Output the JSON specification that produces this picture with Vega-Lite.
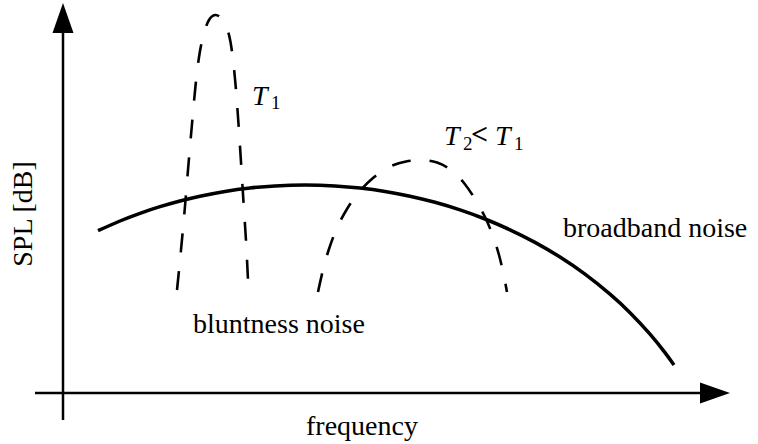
{
  "$schema": "https://vega.github.io/schema/vega-lite/v6.json",
  "width": 758,
  "height": 444,
  "autosize": {"type": "fit", "contains": "padding"},
  "padding": 0,
  "background": "white",
  "config": {"view": {"stroke": null}},
  "datasets": {
    "broadband": [
      {"f": 98, "spl": 213.3}, {"f": 120, "spl": 223.0}, {"f": 140, "spl": 230.7}, {"f": 160, "spl": 237.3},
      {"f": 180, "spl": 243.0}, {"f": 200, "spl": 247.8}, {"f": 225, "spl": 252.6}, {"f": 250, "spl": 256.0},
      {"f": 275, "spl": 258.1}, {"f": 305, "spl": 259.0}, {"f": 335, "spl": 258.1}, {"f": 360, "spl": 256.0},
      {"f": 385, "spl": 252.6}, {"f": 410, "spl": 247.8}, {"f": 435, "spl": 241.7}, {"f": 460, "spl": 234.1},
      {"f": 485, "spl": 225.0}, {"f": 510, "spl": 214.2}, {"f": 535, "spl": 201.6}, {"f": 560, "spl": 186.9},
      {"f": 585, "spl": 169.8}, {"f": 610, "spl": 149.8}, {"f": 630, "spl": 131.3}, {"f": 650, "spl": 109.9},
      {"f": 665, "spl": 91.4}, {"f": 674, "spl": 79.0}
    ],
    "peaks": [
      {"peak": "T1", "i": 1, "f": 177, "spl": 154}, {"peak": "T1", "i": 2, "f": 181, "spl": 194},
      {"peak": "T1", "i": 3, "f": 185, "spl": 238}, {"peak": "T1", "i": 4, "f": 188.5, "spl": 280},
      {"peak": "T1", "i": 5, "f": 192, "spl": 320}, {"peak": "T1", "i": 6, "f": 195.5, "spl": 358},
      {"peak": "T1", "i": 7, "f": 199.5, "spl": 390}, {"peak": "T1", "i": 8, "f": 204, "spl": 411},
      {"peak": "T1", "i": 9, "f": 209, "spl": 424}, {"peak": "T1", "i": 10, "f": 215, "spl": 429},
      {"peak": "T1", "i": 11, "f": 221, "spl": 426}, {"peak": "T1", "i": 12, "f": 226.5, "spl": 417},
      {"peak": "T1", "i": 13, "f": 230.5, "spl": 402}, {"peak": "T1", "i": 14, "f": 233.5, "spl": 380},
      {"peak": "T1", "i": 15, "f": 236, "spl": 354}, {"peak": "T1", "i": 16, "f": 238.5, "spl": 320},
      {"peak": "T1", "i": 17, "f": 241, "spl": 282}, {"peak": "T1", "i": 18, "f": 243.5, "spl": 242},
      {"peak": "T1", "i": 19, "f": 246, "spl": 203}, {"peak": "T1", "i": 20, "f": 248, "spl": 164},
      {"peak": "T2", "i": 1, "f": 318, "spl": 152}, {"peak": "T2", "i": 2, "f": 323, "spl": 174},
      {"peak": "T2", "i": 3, "f": 329, "spl": 195}, {"peak": "T2", "i": 4, "f": 337, "spl": 216},
      {"peak": "T2", "i": 5, "f": 347, "spl": 235}, {"peak": "T2", "i": 6, "f": 359, "spl": 252},
      {"peak": "T2", "i": 7, "f": 373, "spl": 266}, {"peak": "T2", "i": 8, "f": 389, "spl": 277},
      {"peak": "T2", "i": 9, "f": 406, "spl": 282.5}, {"peak": "T2", "i": 10, "f": 422, "spl": 284},
      {"peak": "T2", "i": 11, "f": 437, "spl": 281.5}, {"peak": "T2", "i": 12, "f": 451, "spl": 274},
      {"peak": "T2", "i": 13, "f": 464, "spl": 261}, {"peak": "T2", "i": 14, "f": 475, "spl": 245},
      {"peak": "T2", "i": 15, "f": 485, "spl": 227}, {"peak": "T2", "i": 16, "f": 493, "spl": 208},
      {"peak": "T2", "i": 17, "f": 499, "spl": 189}, {"peak": "T2", "i": 18, "f": 503.5, "spl": 170},
      {"peak": "T2", "i": 19, "f": 507, "spl": 152}
    ],
    "axes": [
      {"f": 35, "f2": 712, "spl": 51, "spl2": 51},
      {"f": 63, "f2": 63, "spl": 24, "spl2": 420}
    ],
    "arrowRight": [{"f": 715, "spl": 51}],
    "arrowUp": [{"f": 63, "spl": 426}],
    "labels": [
      {"style": "roman", "text": "bluntness noise", "f": 193, "spl": 111},
      {"style": "roman", "text": "broadband noise", "f": 563, "spl": 207},
      {"style": "italic", "text": "T", "f": 252, "spl": 339},
      {"style": "sub", "text": "1", "f": 271, "spl": 335},
      {"style": "italic", "text": "T", "f": 444, "spl": 299},
      {"style": "sub", "text": "2", "f": 463, "spl": 294},
      {"style": "italic", "text": "T", "f": 495, "spl": 299},
      {"style": "sub", "text": "1", "f": 514, "spl": 294}
    ],
    "lessThan": [{"text": "<", "f": 471, "spl": 300}],
    "centerLabels": [{"text": "frequency", "f": 362, "spl": 9}],
    "yLabel": [{"text": "SPL [dB]", "f": 32, "spl": 230}]
  },
  "layer": [
    {
      "data": {"name": "axes"},
      "mark": {"type": "rule", "color": "black", "strokeWidth": 2.5},
      "encoding": {
        "x": {"field": "f", "type": "quantitative", "scale": {"domain": [0, 758], "nice": false, "zero": false}, "axis": null},
        "x2": {"field": "f2"},
        "y": {"field": "spl", "type": "quantitative", "scale": {"domain": [0, 444], "nice": false, "zero": false}, "axis": null},
        "y2": {"field": "spl2"}
      }
    },
    {
      "data": {"name": "arrowRight"},
      "mark": {"type": "point", "shape": "M-1,-0.7L1,0L-1,0.7Z", "filled": true, "color": "black", "size": 900, "opacity": 1, "strokeWidth": 0},
      "encoding": {
        "x": {"field": "f", "type": "quantitative"},
        "y": {"field": "spl", "type": "quantitative"}
      }
    },
    {
      "data": {"name": "arrowUp"},
      "mark": {"type": "point", "shape": "M-0.7,1L0,-1L0.7,1Z", "filled": true, "color": "black", "size": 900, "opacity": 1, "strokeWidth": 0},
      "encoding": {
        "x": {"field": "f", "type": "quantitative"},
        "y": {"field": "spl", "type": "quantitative"}
      }
    },
    {
      "data": {"name": "broadband"},
      "mark": {"type": "line", "color": "black", "strokeWidth": 3.5, "interpolate": "natural"},
      "encoding": {
        "x": {"field": "f", "type": "quantitative"},
        "y": {"field": "spl", "type": "quantitative"}
      }
    },
    {
      "data": {"name": "peaks"},
      "mark": {"type": "line", "color": "black", "strokeWidth": 2.6, "strokeDash": [19, 19], "interpolate": "natural"},
      "encoding": {
        "x": {"field": "f", "type": "quantitative"},
        "y": {"field": "spl", "type": "quantitative"},
        "detail": {"field": "peak"},
        "order": {"field": "i", "type": "quantitative"}
      }
    },
    {
      "data": {"name": "labels"},
      "transform": [{"filter": "datum.style === 'roman'"}],
      "mark": {"type": "text", "font": "Liberation Serif", "fontSize": 28, "align": "left", "baseline": "alphabetic", "color": "black"},
      "encoding": {
        "x": {"field": "f", "type": "quantitative"},
        "y": {"field": "spl", "type": "quantitative"},
        "text": {"field": "text"}
      }
    },
    {
      "data": {"name": "lessThan"},
      "mark": {"type": "text", "font": "Liberation Serif", "fontSize": 30, "fontWeight": "bold", "align": "left", "baseline": "alphabetic", "color": "black"},
      "encoding": {
        "x": {"field": "f", "type": "quantitative"},
        "y": {"field": "spl", "type": "quantitative"},
        "text": {"field": "text"}
      }
    },
    {
      "data": {"name": "labels"},
      "transform": [{"filter": "datum.style === 'italic'"}],
      "mark": {"type": "text", "font": "Liberation Serif", "fontStyle": "italic", "fontSize": 28, "align": "left", "baseline": "alphabetic", "color": "black"},
      "encoding": {
        "x": {"field": "f", "type": "quantitative"},
        "y": {"field": "spl", "type": "quantitative"},
        "text": {"field": "text"}
      }
    },
    {
      "data": {"name": "labels"},
      "transform": [{"filter": "datum.style === 'sub'"}],
      "mark": {"type": "text", "font": "Liberation Serif", "fontSize": 19, "align": "left", "baseline": "alphabetic", "color": "black"},
      "encoding": {
        "x": {"field": "f", "type": "quantitative"},
        "y": {"field": "spl", "type": "quantitative"},
        "text": {"field": "text"}
      }
    },
    {
      "data": {"name": "centerLabels"},
      "mark": {"type": "text", "font": "Liberation Serif", "fontSize": 28, "align": "center", "baseline": "alphabetic", "color": "black"},
      "encoding": {
        "x": {"field": "f", "type": "quantitative"},
        "y": {"field": "spl", "type": "quantitative"},
        "text": {"field": "text"}
      }
    },
    {
      "data": {"name": "yLabel"},
      "mark": {"type": "text", "font": "Liberation Serif", "fontSize": 28, "align": "center", "baseline": "alphabetic", "angle": 270, "color": "black"},
      "encoding": {
        "x": {"field": "f", "type": "quantitative"},
        "y": {"field": "spl", "type": "quantitative"},
        "text": {"field": "text"}
      }
    }
  ]
}
